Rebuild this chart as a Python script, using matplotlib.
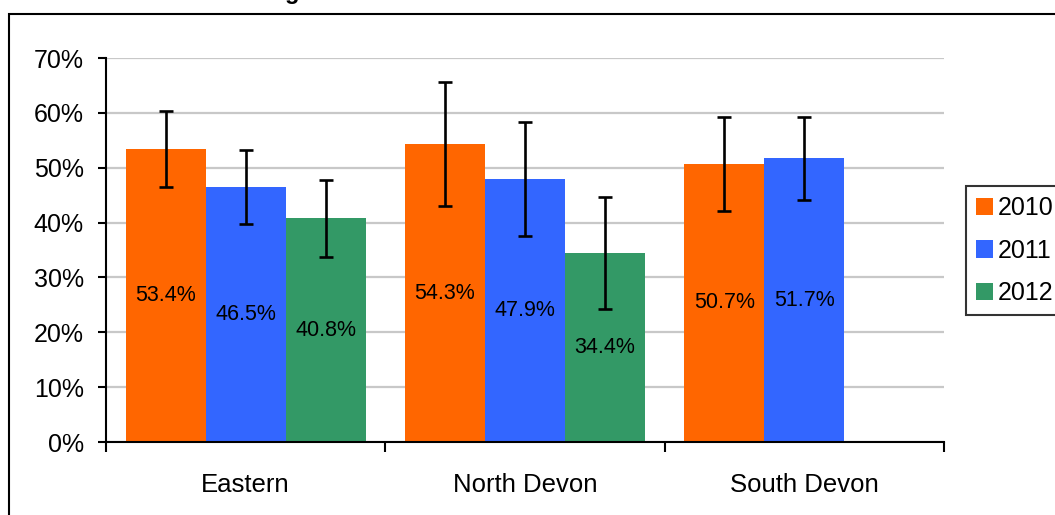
import numpy as np
import matplotlib
matplotlib.use("Agg")
import matplotlib.pyplot as plt
from matplotlib.patches import Rectangle

plt.rcParams['font.family'] = ['Liberation Sans', 'DejaVu Sans']

categories = ["Eastern", "North Devon", "South Devon"]
years = ["2010", "2011", "2012"]
values = {
    "2010": [53.4, 54.3, 50.7],
    "2011": [46.5, 47.9, 51.7],
    "2012": [40.8, 34.4, np.nan],
}
errors = {
    "2010": [7.0, 11.3, 8.5],
    "2011": [6.7, 10.4, 7.5],
    "2012": [7.0, 10.2, np.nan],
}
labels = {
    "2010": ["53.4%", "54.3%", "50.7%"],
    "2011": ["46.5%", "47.9%", "51.7%"],
    "2012": ["40.8%", "34.4%", ""],
}
colors = {"2010": "#FF6600", "2011": "#3366FF", "2012": "#339966"}
yticks = [0, 10, 20, 30, 40, 50, 60, 70]
ytick_labels = ["0%", "10%", "20%", "30%", "40%", "50%", "60%", "70%"]

W, H = 1055, 515
fig = plt.figure(figsize=(W / 100, H / 100), dpi=100)
ax = fig.add_axes([106 / W, 1 - 442 / H, (944 - 106) / W, (442 - 58) / H])

x = np.arange(len(categories))
w = 80 / 279.3
handles = []
for i, yr in enumerate(years):
    pos = x + (i - 1) * w
    vals = np.array(values[yr], dtype=float)
    errs = np.array(errors[yr], dtype=float)
    b = ax.bar(pos, vals, width=w, color=colors[yr], label=yr, zorder=2)
    handles.append(b)
    ax.errorbar(pos, vals, yerr=errs, fmt='none', ecolor='black',
                elinewidth=1.9, capsize=4.8, capthick=1.9, zorder=3)
    for p, v, lab in zip(pos, vals, labels[yr]):
        if lab:
            ax.text(p, v / 2, lab, ha='center', va='center', fontsize=15.5,
                    color='black', zorder=4)

ax.set_xlim(-0.5, 2.5)
ax.set_ylim(0, 70)
ax.set_yticks(yticks)
ax.set_yticklabels(ytick_labels, fontsize=18)
ax.set_xticks(x)
ax.set_xticklabels(categories, fontsize=18.5)
ax.tick_params(axis='x', length=0, pad=22)
ax.set_xticks([-0.5, 0.5, 1.5, 2.5], minor=True)
ax.tick_params(axis='x', which='minor', length=7, width=1.5, color='black')
ax.tick_params(axis='y', length=6, width=1.5, color='black', pad=10)
ax.yaxis.grid(True, color='#c8c8c8', linewidth=1.6, zorder=0)
ax.set_axisbelow(True)
for s in ['top', 'right']:
    ax.spines[s].set_visible(False)
for s in ['left', 'bottom']:
    ax.spines[s].set_linewidth(1.5)
    ax.spines[s].set_color('black')

leg = fig.legend(handles=handles, labels=years, loc='upper left',
                 bbox_to_anchor=(966 / W, 1 - 186 / H), fontsize=18,
                 frameon=True, fancybox=False, shadow=False,
                 handlelength=0.68, handleheight=0.68, handletextpad=0.2,
                 labelspacing=0.75, borderpad=0.4, borderaxespad=0)
leg.get_frame().set_edgecolor('black')
leg.get_frame().set_linewidth(1.5)

# outer chart border (extends beyond right/bottom of the image)
fig.patches.append(Rectangle((9 / W, -0.2), 1.5, 1 - 14 / H + 0.2,
                             transform=fig.transFigure, fill=False,
                             edgecolor='black', linewidth=1.5))

# clipped title fragment visible at top
fig.text(292 / W, 1 + 1 / H, "g", fontsize=17, fontweight='bold',
         ha='center', va='baseline')

fig.savefig("out.png", dpi=100)
